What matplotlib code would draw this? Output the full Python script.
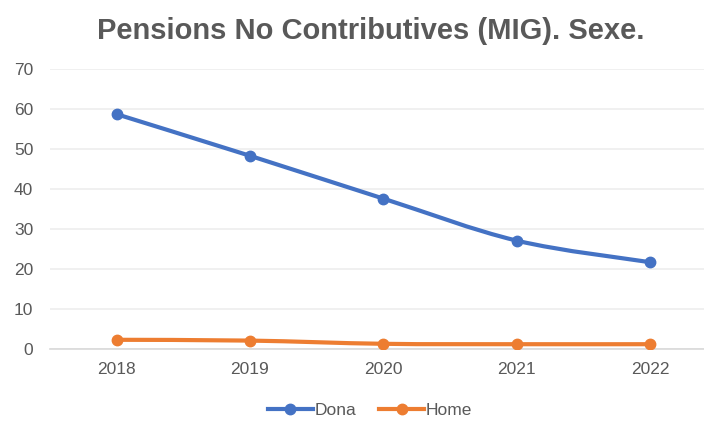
import matplotlib.pyplot as plt
import numpy as np
from matplotlib.path import Path
from matplotlib.patches import PathPatch
from matplotlib.lines import Line2D

plt.rcParams['font.family'] = ['Liberation Sans', 'DejaVu Sans']

years = ["2018", "2019", "2020", "2021", "2022"]
dona = [58.7, 48.3, 37.6, 27.1, 21.7]
home = [2.3, 2.1, 1.3, 1.2, 1.2]

blue = "#4472C4"
orange = "#ED7D31"
grey_text = "#595959"


def smooth_path(xs, ys):
    # Excel-like smoothed line: Bezier segments with 1/6 tangent
    pts = np.column_stack([xs, ys]).astype(float)
    n = len(pts)
    verts = [pts[0]]
    codes = [Path.MOVETO]
    for i in range(n - 1):
        p0 = pts[max(i - 1, 0)]
        p1 = pts[i]
        p2 = pts[i + 1]
        p3 = pts[min(i + 2, n - 1)]
        c1 = p1 + (p2 - p0) / 6
        c2 = p2 - (p3 - p1) / 6
        verts += [c1, c2, p2]
        codes += [Path.CURVE4] * 3
    return Path(verts, codes)


fig = plt.figure(figsize=(7.04, 4.21), dpi=100)
ax = fig.add_axes([50 / 704, 72 / 421, 654 / 704, 280 / 421])

x = np.arange(len(years))
for vals, col in [(dona, blue), (home, orange)]:
    patch = PathPatch(smooth_path(x, vals), facecolor='none', edgecolor=col,
                      lw=3, capstyle='round', joinstyle='round', zorder=3)
    ax.add_patch(patch)
    ax.plot(x, vals, 'o', color=col, ms=7.5, zorder=4)

ax.set_xlim(-0.5, 4.405)
ax.set_ylim(0, 70)
ax.set_yticks(range(0, 71, 10))
ax.set_xticks(x)
ax.set_xticklabels(years)
ax.yaxis.grid(True, color="#EEEEEE", lw=1.2)
ax.set_axisbelow(True)
for s in ['top', 'right', 'left']:
    ax.spines[s].set_visible(False)
ax.spines['bottom'].set_color("#D9D9D9")
ax.spines['bottom'].set_linewidth(1.2)
ax.tick_params(axis='both', length=0, labelsize=12.5, labelcolor=grey_text)
ax.tick_params(axis='y', pad=12)
ax.tick_params(axis='x', pad=9)

fig.text(371 / 704, 1 - 31 / 421, "Pensions No Contributives (MIG). Sexe.",
         ha='center', va='center', fontsize=21, fontweight='bold', color=grey_text)

handles = [Line2D([], [], color=blue, lw=3, marker='o', ms=7.5),
           Line2D([], [], color=orange, lw=3, marker='o', ms=7.5)]
fig.legend(handles, ["Dona", "Home"], loc='center', bbox_to_anchor=(370 / 704, 1 - 410 / 421),
           ncol=2, frameon=False, fontsize=12.5, labelcolor=grey_text,
           handlelength=2.6, handletextpad=0.1, columnspacing=1.3)

fig.savefig("out.png", dpi=100)
